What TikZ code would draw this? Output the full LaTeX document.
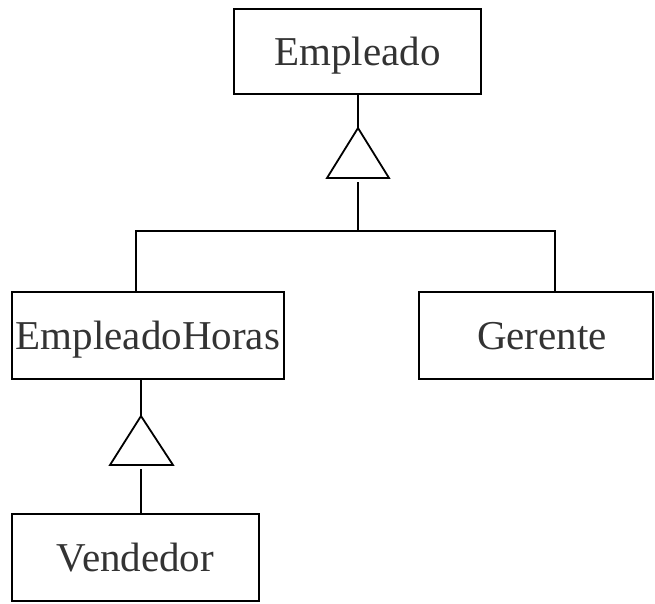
\documentclass[tikz,border=0pt]{standalone}
\usepackage{fontspec}
\setmainfont{Liberation Serif}
\begin{document}
\begin{tikzpicture}[x=1pt,y=-1pt,
  cls/.style={draw=black, line width=1.8pt, inner sep=0pt, text=black!80,
    text height=28pt, text depth=0pt,
    font=\fontsize{41}{48}\selectfont},
  link/.style={draw=black, line width=1.8pt},
  gen/.style={draw=black, line width=1.8pt, fill=white, line join=miter}]
\useasboundingbox (0,0) rectangle (655,603);

% class boxes
\node[cls, minimum width=247pt, minimum height=85pt] (emp) at (357.5,51.5) {Empleado};
\node[cls, minimum width=272pt, minimum height=87pt] (eh)  at (148,335.5) {EmpleadoHoras};
\node[cls, minimum width=234pt, minimum height=87pt] (ger) at (536,335.5) {\hspace*{12pt}Gerente};
\node[cls, minimum width=247pt, minimum height=87pt] (ven) at (135.5,557.5) {Vendedor};

% generalisation: Empleado
\coordinate (t1top) at (358,128);
\coordinate (t1bot) at (358,182);
\coordinate (bus) at (358,231);
\draw[gen] (t1top) -- (327,178) -- (389,178) -- cycle;
\draw[link] (emp.south -| t1top) -- (t1top);
\draw[link] (t1bot) -- (bus);
\draw[link] (eh.north -| 136,0) |- (bus) -| (ger.north -| 555,0);

% generalisation: EmpleadoHoras
\coordinate (t2top) at (141,416);
\coordinate (t2bot) at (141,469);
\draw[gen] (t2top) -- (110,465) -- (173,465) -- cycle;
\draw[link] (eh.south -| t2top) -- (t2top);
\draw[link] (t2bot) -- (ven.north -| t2bot);
\end{tikzpicture}
\end{document}
